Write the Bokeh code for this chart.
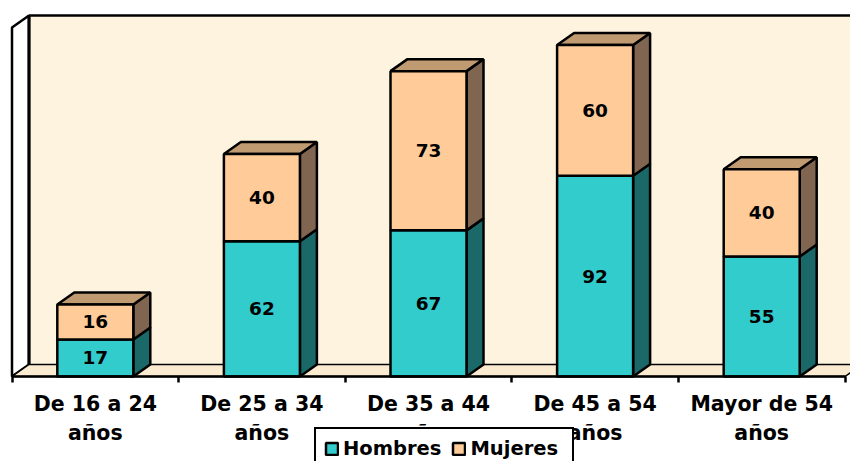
from bokeh.plotting import figure
from bokeh.embed import file_html
from bokeh.resources import INLINE
from bokeh.models import Legend, LegendItem, FixedTicker, ColumnDataSource, Range1d
from bokeh.core.properties import value

categories = ["De 16 a 24\naños", "De 25 a 34\naños", "De 35 a 44\naños", "De 45 a 54\naños", "Mayor de 54\naños"]
hombres = [17, 62, 67, 92, 55]
mujeres = [16, 40, 73, 60, 40]
y_max = 160

W, H, BOTTOM = 850, 461, 85
PX_X = 166.6
PX_Y = 349.0 / y_max
DX = 17 / PX_X
DY = 12 / PX_Y
HALF = 38 / PX_X
X0 = 11.5 / PX_X
FONT = "DejaVu Sans"
LW = 2.5

p = figure(width=W, height=H, output_backend="svg", toolbar_location=None,
           x_range=Range1d(-X0, (W - 11.5) / PX_X), y_range=Range1d(-BOTTOM / PX_Y, (H - BOTTOM) / PX_Y),
           min_border_left=0, min_border_right=0, min_border_top=0, min_border_bottom=0,
           x_axis_location="below", y_axis_location=None)
p.outline_line_color = None
p.grid.visible = False
p.background_fill_color = "#ffffff"
p.border_fill_color = "#ffffff"

n = len(categories)
xr = n + DX
# walls and floor
p.patch([DX, xr, xr, DX], [DY, DY, y_max + DY, y_max + DY], fill_color="#FEF3DE", line_color=None)
p.patch([0, DX, DX, 0], [0, DY, y_max + DY, y_max], fill_color="#ffffff", line_color="black", line_width=LW)
p.patch([0, DX, xr, n], [0, DY, DY, 0], fill_color="#FBEBD0", line_color="black", line_width=1.5)
p.line([DX, DX], [DY, y_max + DY], line_color="black", line_width=3)
p.line([DX, xr], [y_max + DY, y_max + DY], line_color="black", line_width=LW)

centers = [i + 0.5 for i in range(n)]
tops_h = list(hombres)
tops_m = [a + b for a, b in zip(hombres, mujeres)]


def side(bottoms, tops):
    xs, ys = [], []
    for c, b, t in zip(centers, bottoms, tops):
        xs.append([c + HALF, c + HALF + DX, c + HALF + DX, c + HALF])
        ys.append([b, b + DY, t + DY, t])
    return xs, ys


xs, ys = side([0] * n, tops_h)
p.patches(xs, ys, fill_color="#1B6868", line_color="black", line_width=LW)
xs, ys = side(tops_h, tops_m)
p.patches(xs, ys, fill_color="#806650", line_color="black", line_width=LW)
p.patches([[c - HALF, c - HALF + DX, c + HALF + DX, c + HALF] for c in centers],
          [[t, t + DY, t + DY, t] for t in tops_m],
          fill_color="#C09A70", line_color="black", line_width=LW)

q1 = p.quad(left=[c - HALF for c in centers], right=[c + HALF for c in centers], bottom=[0] * n, top=tops_h,
            fill_color="#33CCCC", line_color="black", line_width=LW)
q2 = p.quad(left=[c - HALF for c in centers], right=[c + HALF for c in centers], bottom=tops_h, top=tops_m,
            fill_color="#FFCC99", line_color="black", line_width=LW)

labels = ColumnDataSource(dict(
    x=centers + centers,
    y=[v / 2 for v in hombres] + [h + m / 2 for h, m in zip(hombres, mujeres)],
    t=[str(v) for v in hombres + mujeres]))
p.text(x="x", y="y", text="t", source=labels, text_font=value(FONT), text_font_style="bold",
       text_font_size="18.5px", text_color="black", text_align="center", text_baseline="middle")

ax = p.xaxis[0]
ax.fixed_location = 0
ax.bounds = (0, n)
ax.ticker = FixedTicker(ticks=centers, minor_ticks=list(range(n + 1)))
ax.major_label_overrides = {c: l for c, l in zip(centers, categories)}
ax.major_tick_line_color = None
ax.minor_tick_line_color = "black"
ax.minor_tick_line_width = LW
ax.minor_tick_out = 6
ax.minor_tick_in = 0
ax.axis_line_color = "black"
ax.axis_line_width = LW
ax.major_label_text_font = FONT
ax.major_label_text_font_style = "bold"
ax.major_label_text_font_size = "20.5px"
ax.major_label_text_color = "black"
ax.major_label_text_line_height = 1.22
ax.major_label_standoff = 9
ax.major_label_orientation = "horizontal"

legend = Legend(items=[LegendItem(label="Hombres", renderers=[q1]), LegendItem(label="Mujeres", renderers=[q2])],
                orientation="horizontal", location=(314, -9),
                border_line_color="black", border_line_width=2.5, border_line_alpha=1,
                background_fill_color="white", background_fill_alpha=1,
                label_text_font=FONT, label_text_font_style="bold", label_text_font_size="19.5px",
                label_text_color="black", glyph_width=15, glyph_height=15, spacing=10, padding=8, margin=0,
                label_standoff=4, label_width=94)
p.add_layout(legend, "center")

open("out.html", "w").write(file_html(p, INLINE))
